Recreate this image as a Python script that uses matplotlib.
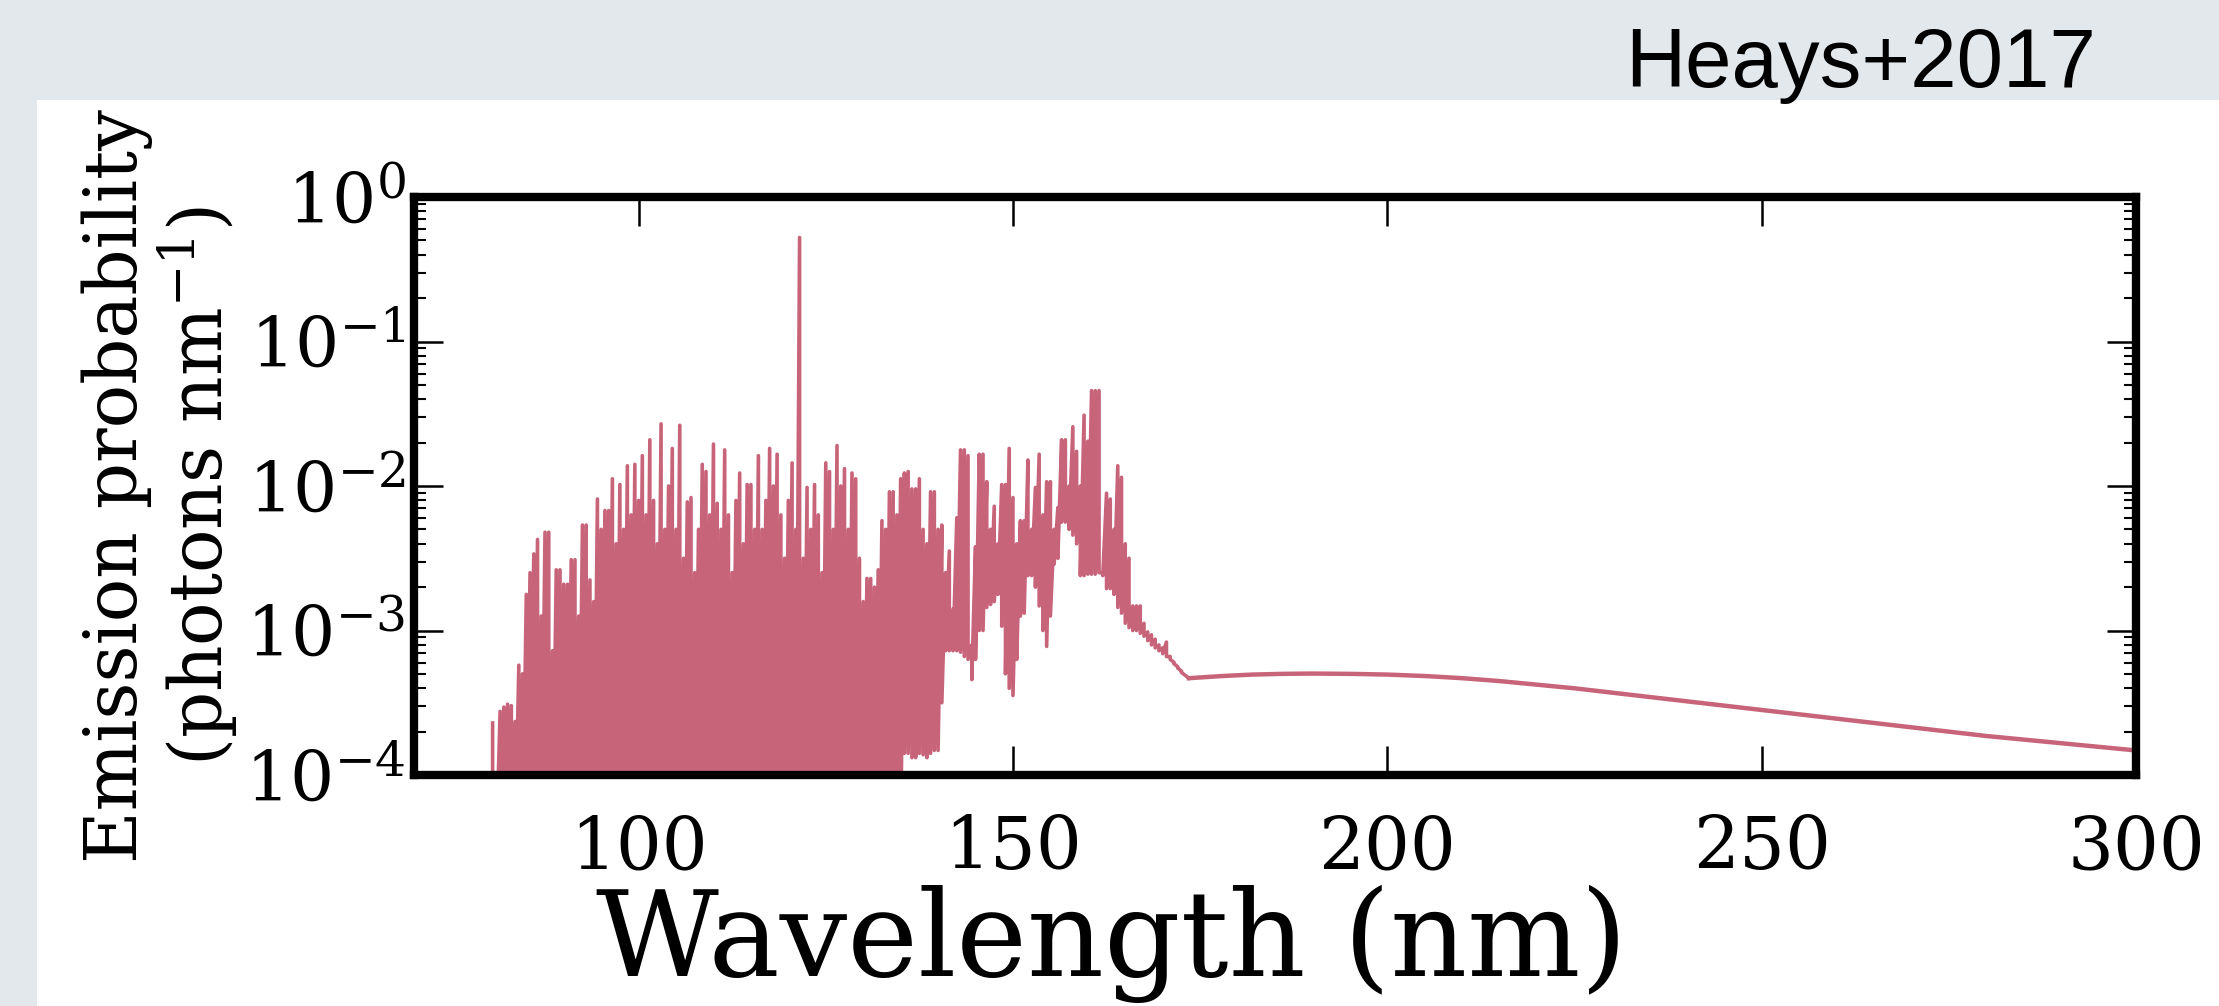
import numpy as np
import matplotlib
matplotlib.use('Agg')
import matplotlib.pyplot as plt
from matplotlib.patches import Rectangle
from matplotlib.ticker import NullLocator, LogLocator

plt.rcParams['font.family'] = 'DejaVu Serif'
plt.rcParams['mathtext.fontset'] = 'dejavuserif'
plt.rcParams['axes.unicode_minus'] = False

# Emission band region, sampled every 0.5 nm from 80.5 to 173.5 nm
# values are log10(photons nm^-1), read from the figure
wl_start, wl_step = 80.5, 0.5
upper_log = [
    -3.64, -4.5, -3.56, -3.53, -3.51, -3.52, -3.63, -3.24, -3.3, -2.75,     # 80.5
    -2.6, -2.47, -2.37, -2.9, -2.32, -2.32, -3.14, -2.58, -2.58, -2.68,     # 85.5
    -2.68, -2.51, -2.51, -2.9, -2.27, -2.27, -2.65, -2.8, -2.09, -2.3,      # 90.5
    -2.17, -2.17, -1.95, -2.4, -1.99, -2.3, -1.86, -2.2, -1.85, -2.1,       # 95.5
    -1.79, -2.2, -1.68, -2.1, -2.4, -1.57, -2.3, -2.0, -1.74, -2.3,         # 100.5
    -1.58, -2.5, -2.11, -2.08, -2.6, -2.3, -1.85, -1.9, -2.2, -1.71,        # 105.5
    -2.12, -2.3, -1.75, -2.2, -2.6, -2.1, -1.91, -2.4, -1.99, -1.99,        # 110.5
    -2.3, -1.79, -2.3, -2.1, -1.74, -2.0, -1.78, -2.2, -2.5, -2.1,          # 115.5
    -1.84, -2.3, -0.28, -2.5, -2.01, -2.3, -1.99, -2.2, -2.6, -1.84,        # 120.5
    -1.9, -2.3, -1.72, -2.0, -1.88, -2.3, -1.91, -1.95, -2.5, -2.8,         # 125.5
    -2.64, -2.64, -2.7, -2.58, -2.24, -2.3, -2.04, -2.04, -2.2, -1.95,      # 130.5
    -1.91, -1.90, -2.02, -2.02, -1.95, -2.3, -2.4, -2.04, -2.04, -2.3,      # 135.5
    -2.27, -2.6, -2.45, -2.85, -2.22, -1.75, -1.75, -1.79, -3.1, -2.42,     # 140.5
    -1.78, -1.78, -1.97, -2.3, -2.14, -2.4, -1.99, -1.99, -1.74, -2.08,     # 145.5
    -2.4, -2.24, -2.24, -1.82, -2.3, -2.01, -1.78, -2.2, -1.97, -1.97,      # 150.5
    -2.3, -2.15, -1.68, -1.68, -2.0, -1.59, -1.76, -2.0, -1.51, -1.69,      # 155.5
    -1.34, -1.34, -1.34, -2.60, -2.05, -2.09, -2.3, -1.86, -1.94, -2.4,     # 160.5
    -2.50, -2.83, -2.83, -2.83, -2.95, -3.01, -3.03, -3.06, -3.1, -3.12,    # 165.5
    -3.08, -3.18, -3.22, -3.25, -3.28, -3.31, -3.33,                        # 170.5
]
# below the plotted range (off-scale) until 132 nm
off_scale = -4.5
lower_log = [off_scale] * 104 + [
    -4.5, -4.5, -4.5, -4.5, -4.5, -4.5, -3.85, -3.85, -3.88, -3.88,         # 132.5
    -3.85, -3.86, -3.88, -3.85, -3.83, -3.83, -3.5, -3.14, -3.14, -3.14,    # 137.5
    -3.14, -3.15, -3.18, -3.2, -3.34, -3.2, -3.0, -3.0, -2.84, -2.82,       # 142.5
    -2.8, -2.75, -2.97, -3.3, -3.4, -3.45, -3.2, -2.9, -2.88, -2.62,        # 147.5
    -2.62, -2.7, -2.83, -3.0, -3.11, -2.9, -2.54, -2.5, -2.25, -2.25,       # 152.5
    -2.3, -2.34, -2.4, -2.62, -2.62, -2.61, -2.61, -2.61, -2.6, -2.62,      # 157.5
    -2.71, -2.71, -2.75, -2.84, -2.88, -2.95, -2.98, -3.0, -3.0, -3.02,     # 162.5
    -3.04, -3.07, -3.1, -3.12, -3.14, -3.16, -3.18, -3.2, -3.23, -3.26,     # 167.5
    -3.29, -3.31, -3.33,                                                    # 172.5
]

# smooth continuum beyond the band region
wl_tail = [173.5, 178, 182, 186, 190, 195, 200, 205, 210, 215, 220, 225,
           230, 240, 250, 260, 270, 280, 290, 300]
tail_log = [-3.33, -3.315, -3.305, -3.30, -3.298, -3.30, -3.305, -3.315,
            -3.33, -3.35, -3.375, -3.40, -3.43, -3.49, -3.55, -3.61, -3.67,
            -3.73, -3.78, -3.83]

x_ticks = [100, 150, 200, 250, 300]
line_color = '#c8647a'

# build the band trace: each sample goes up to its peak and down to its trough
wl = wl_start + wl_step * np.arange(len(upper_log))
x_band = np.repeat(wl, 2)
y_band = 10.0 ** np.column_stack([upper_log, lower_log]).ravel()

fig = plt.figure(figsize=(22.19, 10.06), dpi=100)
fig.patch.set_facecolor('white')

# slide background strips (left and top)
bg = '#e3e8ec'
fig.add_artist(Rectangle((0, 0), 37 / 2219, 1, transform=fig.transFigure,
                         color=bg, zorder=0, lw=0))
fig.add_artist(Rectangle((0, 1 - 100 / 1006), 1, 100 / 1006, transform=fig.transFigure,
                         color=bg, zorder=0, lw=0))

fig.text(1625 / 2219, 1 - 87 / 1006, 'Heays+2017', family='Liberation Sans',
         fontsize=60, ha='left', va='baseline', color='black')

ax = fig.add_axes([414 / 2219, 1 - 775 / 1006, 1722 / 2219, 578 / 1006])
ax.plot(x_band, y_band, color=line_color, lw=2.6)
ax.plot(wl_tail, 10.0 ** np.array(tail_log), color=line_color, lw=3.2)

ax.set_yscale('log')
ax.set_xlim(70, 300)
ax.set_ylim(1e-4, 1)
ax.set_xticks(x_ticks)
ax.xaxis.set_minor_locator(NullLocator())
ax.yaxis.set_major_locator(LogLocator(base=10, numticks=20))
ax.yaxis.set_minor_locator(LogLocator(base=10, subs=np.arange(2, 10), numticks=20))

for s in ax.spines.values():
    s.set_linewidth(6)

ax.tick_params(which='major', direction='in', length=21, width=1.8,
               top=True, right=True)
ax.tick_params(which='minor', direction='in', length=8.5, width=1.5,
               left=True, right=True)
ax.tick_params(axis='x', pad=28, labelsize=52)
ax.tick_params(axis='y', pad=6, labelsize=50)

ax.set_ylabel('Emission probability\n(photons nm$^{-1}$)', fontsize=52,
              linespacing=1.05)
ax.yaxis.set_label_coords(-0.101, 0.5)

ax.set_xlabel('Wavelength (nm)', fontsize=86)
ax.xaxis.label.set_va('baseline')
ax.xaxis.set_label_coords(0.405, -0.348)

fig.savefig('out.png', dpi=100)
